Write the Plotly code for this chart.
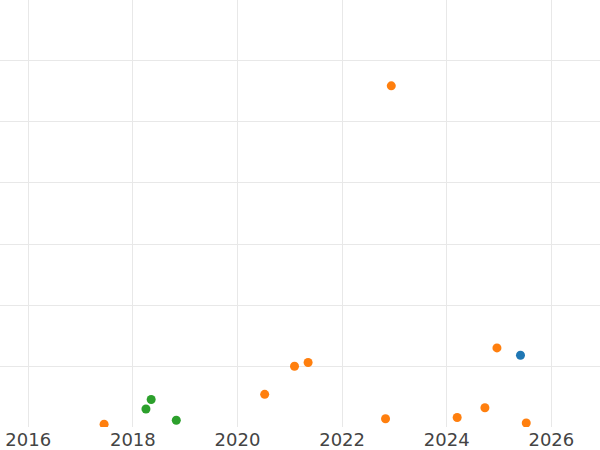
import plotly.graph_objects as go

# Data (x = year, y = value in arbitrary units)
orange_x = [2017.45, 2020.52, 2021.09, 2021.35, 2022.94, 2022.83, 2024.20, 2024.73, 2024.96, 2025.52]
orange_y = [5, 54, 100, 106, 559, 14, 16, 32, 130, 7]
blue_x = [2025.41]
blue_y = [118]
green_x = [2018.25, 2018.35, 2018.83]
green_y = [30, 45.5, 11.6]

x_ticks = [2016, 2018, 2020, 2022, 2024, 2026]

fig = go.Figure()
for xs, ys, col in [(blue_x, blue_y, "#1f77b4"),
                    (orange_x, orange_y, "#ff7f0e"),
                    (green_x, green_y, "#2ca02c")]:
    fig.add_trace(go.Scatter(x=xs, y=ys, mode="markers",
                             marker=dict(color=col, size=9),
                             showlegend=False))

fig.update_layout(
    width=600, height=450,
    margin=dict(l=0, r=0, t=0, b=23),
    paper_bgcolor="white", plot_bgcolor="white",
    font=dict(family="DejaVu Sans", size=18, color="#444"),
    showlegend=False,
)
fig.update_xaxes(range=[2015.46, 2026.93], tickvals=x_ticks,
                 ticktext=[str(v) for v in x_ticks],
                 showgrid=True, gridcolor="#e8e8e8", gridwidth=1,
                 zeroline=False, showline=False, ticks="", automargin=False)
fig.update_yaxes(range=[0.5, 699.5], dtick=100, tick0=0,
                 showgrid=True, gridcolor="#e8e8e8", gridwidth=1,
                 zeroline=False, showline=False, showticklabels=False,
                 ticks="", automargin=False)

fig.write_html("out.html",
               config={"displayModeBar": False},
               post_script="document.body.style.margin='0';document.body.style.overflow='hidden';")
